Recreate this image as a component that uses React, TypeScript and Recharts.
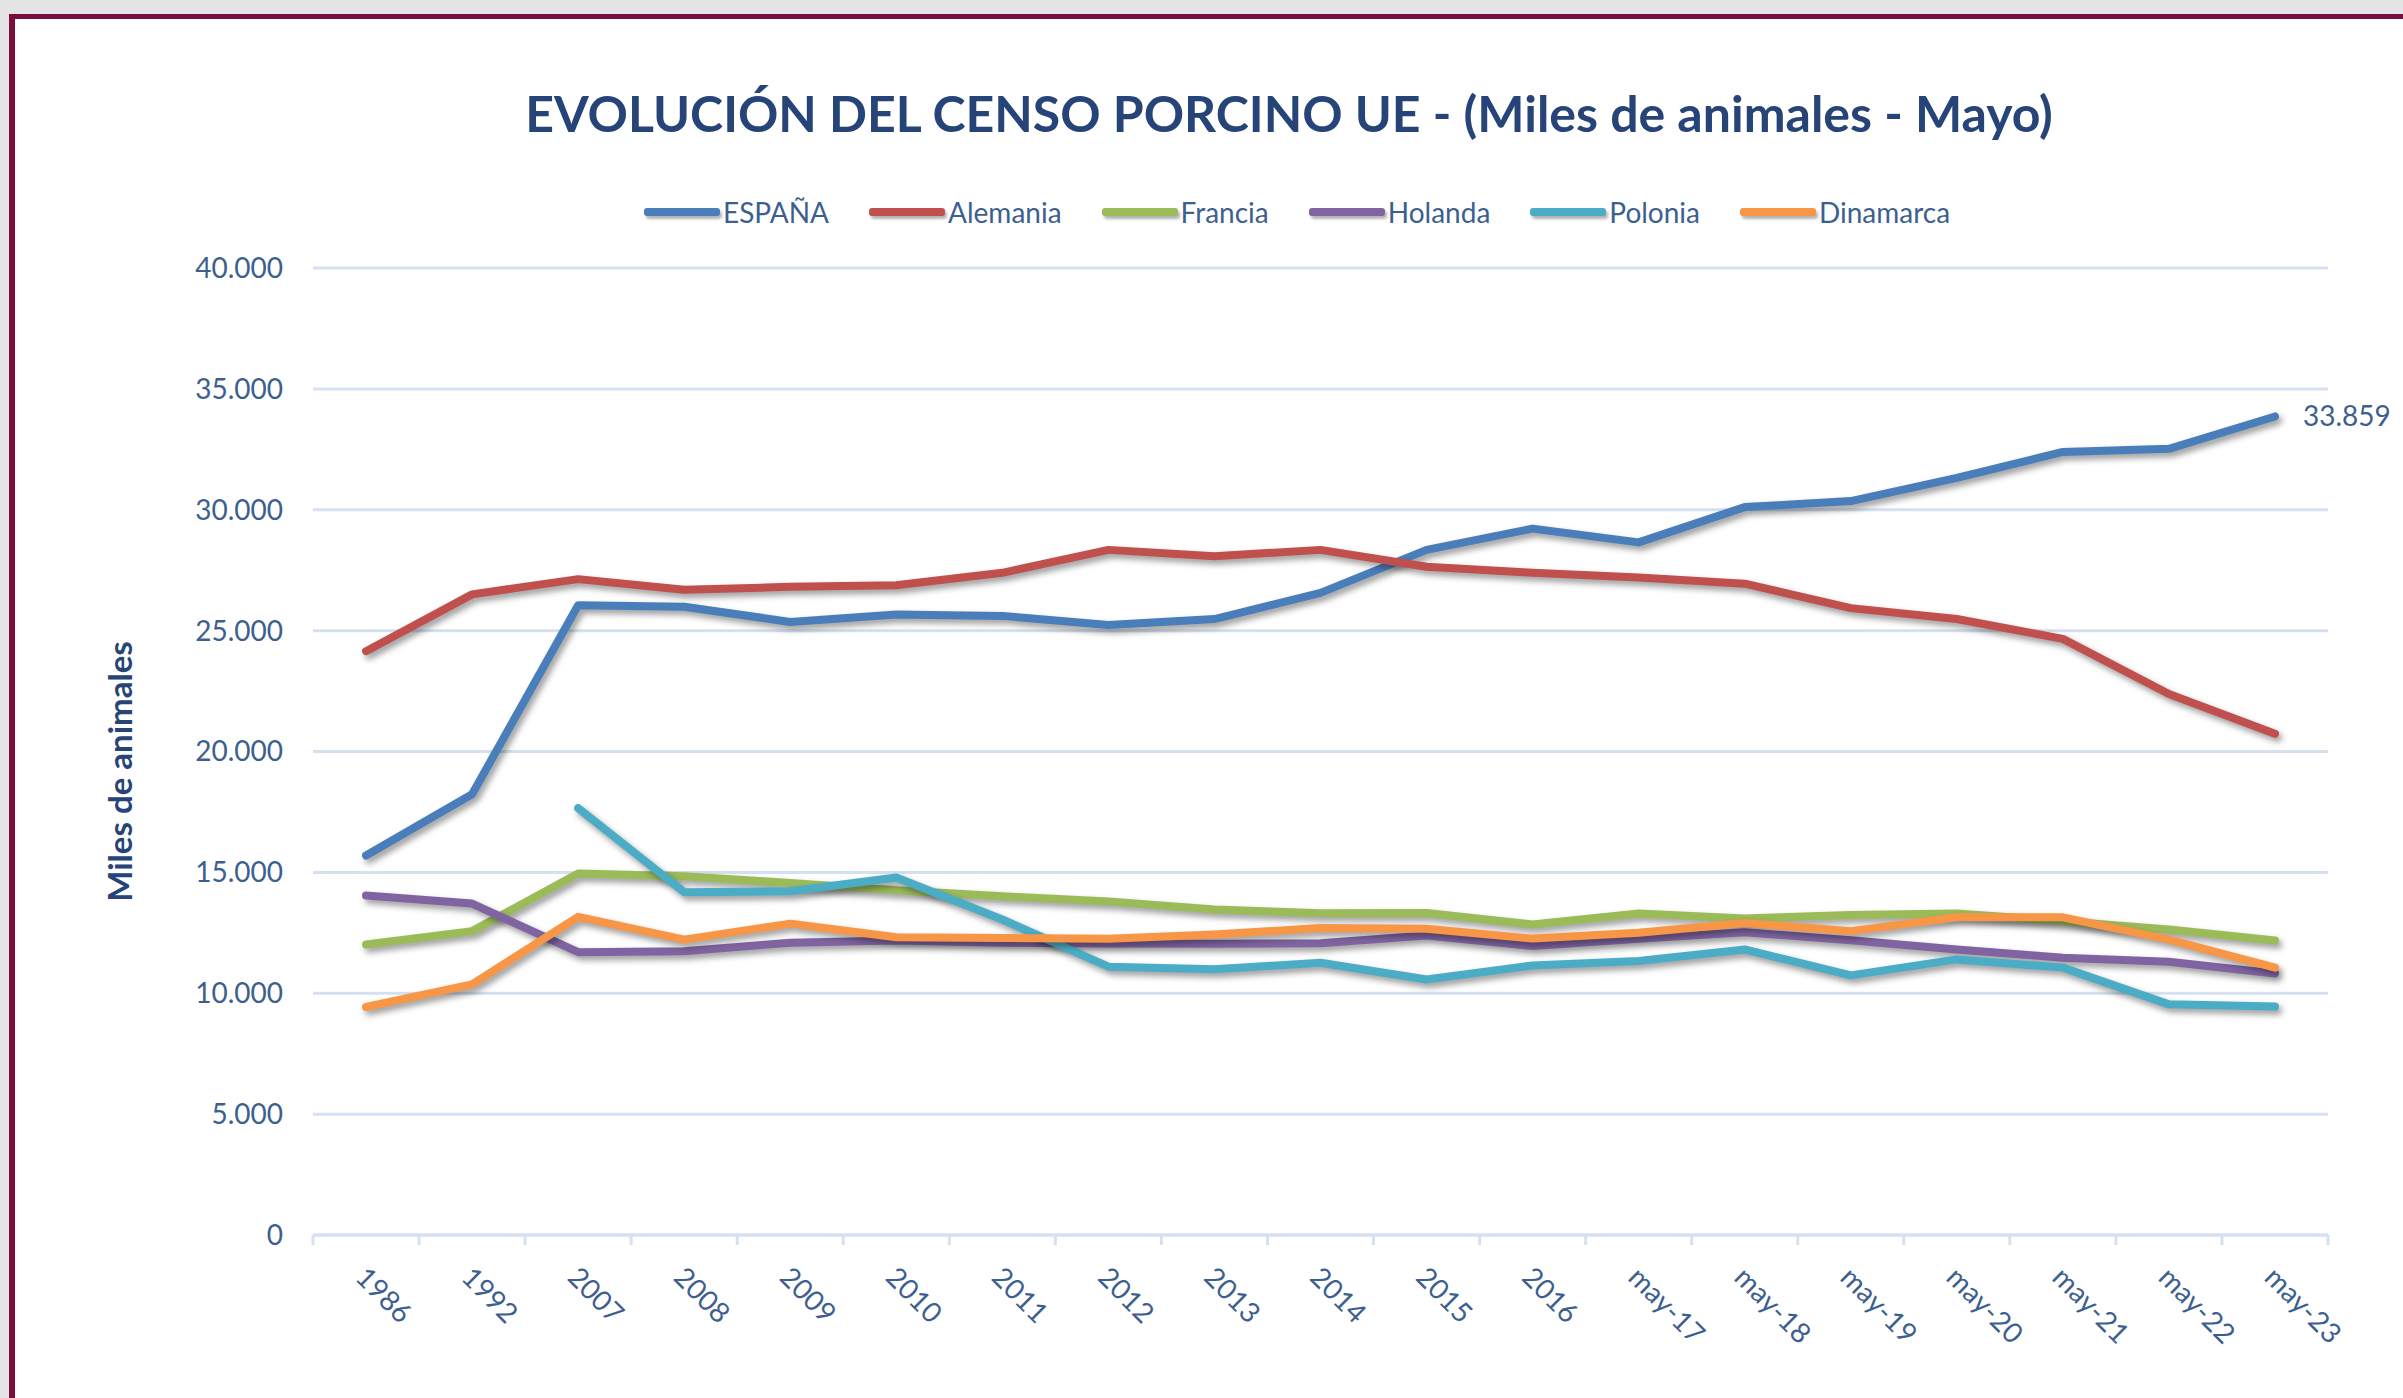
import { CartesianGrid, Legend, Line, LineChart, XAxis, YAxis } from 'recharts';

const years = ['1986', '1992', '2007', '2008', '2009', '2010', '2011', '2012', '2013', '2014', '2015', '2016',
  'may-17', 'may-18', 'may-19', 'may-20', 'may-21', 'may-22', 'may-23'];

// miles de animales
const espana = [15700, 18230, 26050, 25990, 25360, 25670, 25610, 25230, 25480, 26560, 28340, 29220, 28650, 30110, 30360, 31320, 32390, 32520, 33859];
const alemania = [24150, 26500, 27130, 26690, 26810, 26880, 27390, 28340, 28080, 28340, 27640, 27390, 27200, 26940, 25930, 25480, 24660, 22380, 20730];
const francia = [12020, 12570, 14950, 14840, 14560, 14260, 14010, 13800, 13460, 13310, 13320, 12840, 13300, 13090, 13240, 13300, 12980, 12640, 12180];
const holanda = [14040, 13710, 11700, 11740, 12090, 12180, 12090, 12060, 12050, 12070, 12390, 11950, 12250, 12520, 12190, 11810, 11470, 11300, 10820];
const polonia = [null, null, 17660, 14180, 14220, 14790, 13050, 11100, 10990, 11260, 10570, 11150, 11330, 11810, 10740, 11400, 11060, 9540, 9450];
const dinamarca = [9430, 10370, 13160, 12220, 12880, 12320, 12290, 12250, 12430, 12700, 12670, 12260, 12500, 12910, 12570, 13140, 13140, 12220, 11060];

const yTicks = [0, 5000, 10000, 15000, 20000, 25000, 30000, 35000, 40000];

const series = [
  { key: 'espana', name: 'ESPAÑA', color: '#4a7ebb', values: espana },
  { key: 'alemania', name: 'Alemania', color: '#c0504d', values: alemania },
  { key: 'francia', name: 'Francia', color: '#9bbb59', values: francia },
  { key: 'holanda', name: 'Holanda', color: '#8064a2', values: holanda },
  { key: 'polonia', name: 'Polonia', color: '#4bacc6', values: polonia },
  { key: 'dinamarca', name: 'Dinamarca', color: '#f79646', values: dinamarca },
];

const data = years.map((year, i) => {
  const row: any = { year };
  series.forEach(s => { row[s.key] = s.values[i]; });
  return row;
});

const FONT = 'Lato, "Open Sans", sans-serif';
const TEXT = '#3d5f8f';
const GRID = '#d5e1f1';
const W = 2403;
const H = 1398;
const PLOT_L = 313;
const PLOT_R = 2328;
const HALF = (PLOT_R - PLOT_L) / years.length / 2;

const fmt = (v: number) => String(v).replace(/\B(?=(\d{3})+(?!\d))/g, '.');

const XTick = ({ x, y, payload, index }: any) => (
  <g>
    <line x1={x - HALF} x2={x - HALF} y1={y} y2={y + 10} stroke={GRID} strokeWidth={3} />
    {index === years.length - 1 && (
      <line x1={x + HALF} x2={x + HALF} y1={y} y2={y + 10} stroke={GRID} strokeWidth={3} />
    )}
    <text x={x - 12} y={y + 44} transform={`rotate(45, ${x - 12}, ${y + 44})`} fill={TEXT}
      fontFamily={FONT} fontSize={28} textAnchor="start">
      {payload.value}
    </text>
  </g>
);

// keep the series order (recharts sorts the payload by name)
const renderLegend = () => (
  <div style={{ display: 'flex', alignItems: 'center', paddingLeft: 644, fontFamily: FONT, fontSize: 28, color: TEXT }}>
    {series.map(s => (
      <div key={s.key} style={{ display: 'flex', alignItems: 'center', marginRight: 40 }}>
        <span style={{ display: 'inline-block', width: 76, height: 8, borderRadius: 3, background: s.color, marginRight: 3, boxShadow: '2px 3px 3px rgba(0,0,0,0.3)' }} />
        {s.name}
      </div>
    ))}
  </div>
);

const lastLabel = ({ x, y, index, value }: any) =>
  index === years.length - 1 ? (
    <text x={x + 28} y={y} dy="0.35em" fill={TEXT} fontFamily={FONT} fontSize={28}>{fmt(value)}</text>
  ) : null;

export default function App() {
  return (
    <div style={{ position: 'absolute', left: 0, top: 0, width: W, height: H, background: '#e5e5e5', overflow: 'hidden' }}>
      <style>{`.recharts-line-curve { filter: drop-shadow(3px 4px 3px rgba(0,0,0,0.4)); }`}</style>
      <div style={{ position: 'absolute', left: 9, top: 14, width: W, height: H, background: '#fff', borderLeft: '6px solid #7b0d3f', borderTop: '5px solid #7b0d3f' }} />
      <div style={{ position: 'absolute', left: 1289, top: 88, transform: 'translateX(-50%)', whiteSpace: 'nowrap', fontFamily: FONT, fontWeight: 700, fontSize: 50, lineHeight: '50px', color: '#264478' }}>
        EVOLUCIÓN DEL CENSO PORCINO UE - (Miles de animales - Mayo)
      </div>
      <div style={{ position: 'absolute', left: 0, top: 0 }}>
        <LineChart width={W} height={H} data={data} margin={{ top: 268, right: W - PLOT_R, bottom: 0, left: 0 }}>
          <CartesianGrid vertical={false} stroke={GRID} strokeWidth={3} />
          <XAxis dataKey="year" interval={0} padding={{ left: HALF, right: HALF }} height={163}
            axisLine={{ stroke: GRID, strokeWidth: 3 }} tickLine={false} tickSize={0} tickMargin={0} tick={<XTick />} />
          <YAxis width={PLOT_L} domain={[0, 40000]} ticks={yTicks} interval={0} axisLine={false} tickLine={false}
            tickSize={0} tickMargin={30} tickFormatter={fmt}
            tick={{ fill: TEXT, fontFamily: FONT, fontSize: 28 }}
            label={({ viewBox }: any) => (
              <text x={119} y={viewBox.y + viewBox.height / 2 + 20} transform={`rotate(-90, 119, ${viewBox.y + viewBox.height / 2 + 20})`}
                textAnchor="middle" dominantBaseline="central" fill="#264478" fontFamily={FONT} fontWeight={700} fontSize={33}>
                Miles de animales
              </text>
            )} />
          <Legend verticalAlign="middle" content={renderLegend} wrapperStyle={{ top: 195, left: 0, width: W, height: 40 }} />
          {series.map(s => (
            <Line key={s.key} dataKey={s.key} name={s.name} stroke={s.color} strokeWidth={8} dot={false}
              activeDot={false} strokeLinejoin="round" strokeLinecap="round" isAnimationActive={false}
              label={s.key === 'espana' ? lastLabel : undefined} />
          ))}
        </LineChart>
      </div>
    </div>
  );
}
